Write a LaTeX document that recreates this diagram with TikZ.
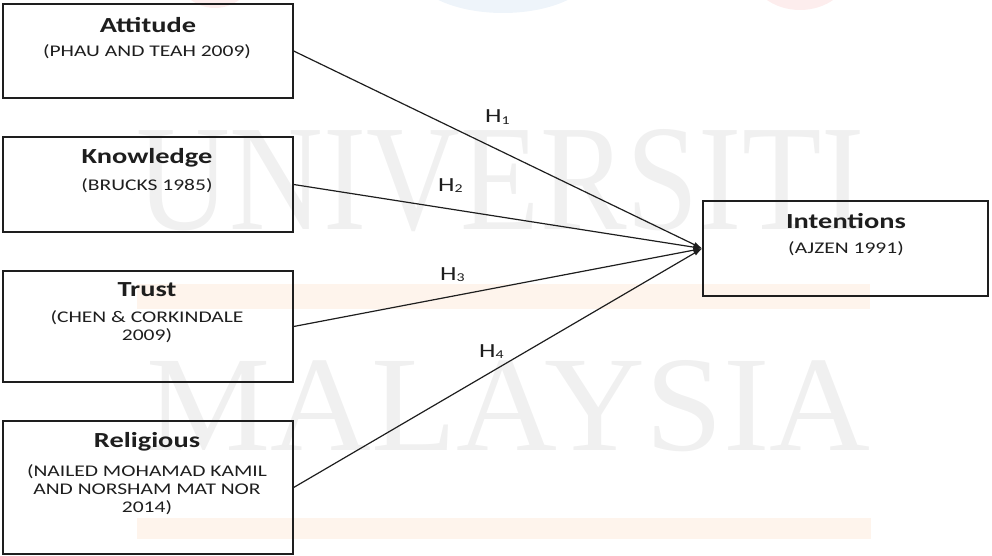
\documentclass[tikz,border=0pt]{standalone}
\usepackage{fontspec}
\setmainfont{Carlito}[FakeStretch=1.32]
\newfontfamily\wmfont{Liberation Serif}
\usetikzlibrary{arrows.meta}

\definecolor{ink}{HTML}{1E1E1E}
\definecolor{wmgray}{HTML}{F0F0F0}
\definecolor{wmpeach}{HTML}{FEF4EC}
\definecolor{wmblue}{HTML}{EEF4FA}
\definecolor{wmred}{HTML}{FDEDED}

\tikzset{
  varbox/.style={draw=ink, line width=1.3pt, inner sep=0pt},
  vartitle/.style={anchor=base, inner sep=0pt, text=ink,
    font=\fontsize{21.5}{24}\selectfont\bfseries},
  varcite/.style={anchor=base, inner sep=0pt, text=ink,
    font=\fontsize{16.3}{17.5}\selectfont},
  link/.style={draw=ink, line width=1.2pt, -{Latex[length=9pt,width=5.5pt]}},
  hyp/.style={anchor=base west, inner sep=0pt, text=ink,
    font=\fontsize{20}{20}\selectfont},
  wmark/.style={anchor=south west, inner sep=0pt, text=wmgray},
}
\newcommand{\hsub}[1]{H{\fontsize{12}{12}\selectfont\raisebox{-1.5pt}{#1}}}

\begin{document}
\begin{tikzpicture}[x=1pt, y=-1pt]
\useasboundingbox (0,0) rectangle (992,556);

% faint background watermark
\fill[wmblue] (503,-32) ellipse [x radius=92, y radius=45];
\fill[wmred] (215,-32) ellipse [x radius=40, y radius=40];
\fill[wmred] (800,-30) ellipse [x radius=50, y radius=40];
\fill[wmpeach] (137,284) rectangle (870,309);
\fill[wmpeach] (137,518) rectangle (871,539);
\node[wmark] (wm1) at (136,232) {\resizebox{728pt}{100pt}{\wmfont UNIVERSITI}};
\node[wmark] (wm2) at (146,452) {\resizebox{724pt}{90pt}{\wmfont MALAYSIA}};

% variable boxes
\node[varbox, minimum width=290pt, minimum height=94pt] (att) at (148,51) {};
\node[varbox, minimum width=290pt, minimum height=95pt] (kno) at (148,184.5) {};
\node[varbox, minimum width=290pt, minimum height=111pt] (tru) at (148,326.5) {};
\node[varbox, minimum width=290pt, minimum height=133pt] (rel) at (148,487.5) {};
\node[varbox, minimum width=285pt, minimum height=95pt] (int) at (845.5,248.5) {};

% box texts
\node[vartitle] (att-t) at (148,32.5) {Attitude};
\node[varcite]  (att-s) at (147,57) {(PHAU AND TEAH 2009)};

\node[vartitle] (kno-t) at (147,164) {Knowledge};
\node[varcite]  (kno-s) at (147,190) {(BRUCKS 1985)};

\node[vartitle] (tru-t) at (147,296) {Trust};
\node[varcite]  (tru-s1) at (147,322) {(CHEN \& CORKINDALE};
\node[varcite]  (tru-s2) at (147,340) {2009)};

\node[vartitle] (rel-t) at (147,447) {Religious};
\node[varcite]  (rel-s1) at (147,476) {(NAILED MOHAMAD KAMIL};
\node[varcite]  (rel-s2) at (147,494.5) {AND NORSHAM MAT NOR};
\node[varcite]  (rel-s3) at (147,512) {2014)};

\node[vartitle] (int-t) at (846,228) {Intentions};
\node[varcite]  (int-s) at (846,253) {(AJZEN 1991)};

% hypothesised paths
\draw[link] (att.east) -- (int.west);
\draw[link] (kno.east) -- (int.west);
\draw[link] (tru.east) -- (int.west);
\draw[link] (rel.east) -- (int.west);

\node[hyp] (h1) at (485,123) {\hsub{1}};
\node[hyp] (h2) at (438,191) {\hsub{2}};
\node[hyp] (h3) at (440,280) {\hsub{3}};
\node[hyp] (h4) at (479,357) {\hsub{4}};
\end{tikzpicture}
\end{document}
